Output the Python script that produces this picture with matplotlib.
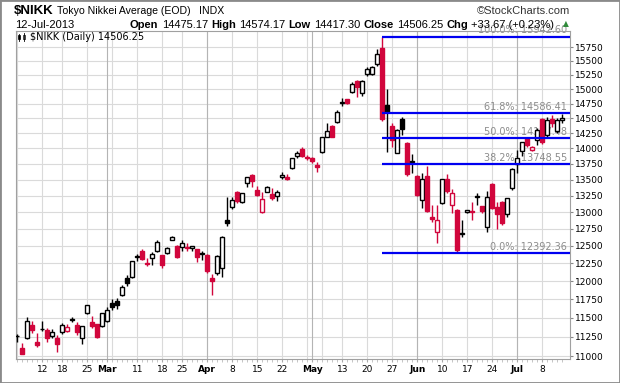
import matplotlib
matplotlib.use("Agg")
import matplotlib.pyplot as plt
from matplotlib.ticker import FixedLocator, FixedFormatter, NullLocator, NullFormatter
from matplotlib.patches import Rectangle
import pandas as pd

# trading days (Tokyo), Feb 4 - Jul 12 2013
holidays = ['2013-02-11', '2013-03-20', '2013-04-29', '2013-05-03', '2013-05-06']
dates = [d for d in pd.bdate_range('2013-02-04', '2013-07-12') if d.strftime('%Y-%m-%d') not in holidays]

opens = [11258, 11099, 11228, 11405, 11176, 11345, 11338, 11262, 11228, 11305,
         11330, 11476, 11405, 11228, 11560, 11441, 11415, 11385, 11450, 11693,
         11725, 11808, 12038, 12062, 12335, 12427, 12250, 12327, 12432, 12365,
         12394, 12590, 12500, 12490, 12480, 12474, 12456, 12380, 12365, 12048,
         12108, 12184, 12883, 13075, 13304, 13160, 13445, 13575, 13340, 13008,
         13314, 13278, 13252, 13540, 13538, 13681, 13882, 13986, 13860, 13840,
         13733, 13947, 14192, 14375, 14441, 14765, 14827, 14954, 15146, 14926,
         15260, 15260, 15440, 15727, 14723, 14375, 13931, 14488, 14085, 13780,
         13559, 13186, 13559, 12932, 12701, 13136, 13507, 13110, 13034, 12670,
         13005, 13025, 13230, 13095, 12784, 13433, 13084, 13160, 12969, 13371,
         13748, 13963, 14166, 13980, 14138, 14487, 14220, 14482, 14280, 14475.17]
highs = [11290, 11164, 11504, 11450, 11292, 11460, 11370, 11351, 11270, 11430,
         11415, 11515, 11440, 11395, 11670, 11530, 11420, 11565, 11640, 11760,
         11765, 11945, 12085, 12290, 12390, 12456, 12331, 12408, 12580, 12370,
         12481, 12640, 12510, 12587, 12548, 12495, 12460, 12430, 12380, 12098,
         12365, 12650, 13225, 13227, 13329, 13300, 13545, 13590, 13402, 13314,
         13402, 13366, 13340, 13617, 13590, 13850, 13960, 14019, 13894, 13855,
         13786, 14192, 14415, 14380, 14639, 14840, 14835, 15118, 15150, 15158,
         15394, 15400, 15708, 15942.60, 14995, 14415, 14320, 14527, 14100, 13909,
         13570, 13601, 13718, 13110, 13110, 13515, 13590, 13351, 13045, 12883,
         13040, 13150, 13289, 13100, 13329, 13444, 13160, 13165, 13215, 13680,
         13975, 14110, 14180, 14040, 14330, 14500, 14527, 14554, 14500, 14574.17]
lows = [11184, 11025, 11220, 11292, 11120, 11325, 11184, 11235, 11055, 11290,
        11305, 11440, 11270, 11150, 11555, 11370, 11235, 11380, 11445, 11603,
        11615, 11800, 11935, 12050, 12288, 12300, 12214, 12226, 12420, 12190,
        12385, 12580, 12320, 12432, 12432, 12432, 12274, 12298, 12110, 11805,
        12080, 12060, 12800, 13045, 13145, 13140, 13382, 13391, 13250, 12993,
        13310, 13186, 13175, 13512, 13500, 13670, 13850, 13860, 13813, 13770,
        13627, 13931, 14182, 14180, 14415, 14712, 14745, 14937, 14867, 14884,
        15236, 15240, 15415, 14460, 13947, 14020, 13925, 14220, 13555, 13600,
        13240, 13059, 13000, 12858, 12539, 13120, 13289, 12988, 12400, 12627,
        12995, 12890, 13110, 12990, 12701, 13045, 12749, 12815, 12932, 13340,
        13600, 13880, 14030, 13960, 14055, 14080, 14195, 14358, 14260, 14417.30]
closes = [11262, 11030, 11450, 11338, 11142, 11351, 11235, 11305, 11153, 11397,
          11380, 11482, 11305, 11393, 11665, 11395, 11240, 11560, 11603, 11640,
          11670, 11925, 11968, 12283, 12349, 12308, 12239, 12381, 12560, 12220,
          12468, 12635, 12338, 12546, 12471, 12493, 12335, 12397, 12135, 12003,
          12351, 12636, 12834, 13186, 13175, 13289, 13538, 13485, 13270, 13201,
          13382, 13220, 13304, 13575, 13515, 13840, 13921, 13884, 13850, 13799,
          13700, 14180, 14285, 14191, 14607, 14782, 14758, 15088, 15037, 15138,
          15347, 15381, 15627, 14484, 14612, 14142, 14311, 14326, 13589, 13790,
          13262, 13514, 13014, 12904, 12877, 13507, 13317, 13289, 12445, 12686,
          13030, 13007, 13245, 13014, 13227, 13062, 12969, 12834, 13213, 13677,
          13852, 14098, 14055, 14018, 14309, 14109, 14472, 14416, 14472, 14506.25]

fib_levels = [15942.60, 14586.41, 14167.48, 13748.55, 12392.36]
fib_names = ['100.0%', '61.8%', '50.0%', '38.2%', '0.0%']
fib_start = '2013-05-23'

y_ticks = list(range(11000, 16000, 250))

header_row = [('Open', True), ('14475.17', False), ('High', True), ('14574.17', False),
              ('Low', True), ('14417.30', False), ('Close', True), ('14506.25', False),
              ('Chg', True), ('+33.67 (+0.23%)', False)]

RED = '#d1063c'
BLACK = '#000000'
BLUE = '#0000f0'

W, H = 620, 383
fig = plt.figure(figsize=(W / 100, H / 100), dpi=100)
fig.patch.set_facecolor('white')

# axes placed by pixel box
left, right, top, bottom = 15.7, 570, 30.5, 359.3
ax = fig.add_axes([left / W, (H - bottom) / H, (right - left) / W, (bottom - top) / H])

ax.set_yscale('log')
ax.set_ylim(10958, 16056)
ax.set_xlim(-0.32, 110.54)

# grid
for v in y_ticks:
    ax.axhline(v, color='#dadada', lw=0.8, zorder=0)

week_starts, month_starts = [], []
for i, d in enumerate(dates):
    if i == 0 or d.isocalendar()[1] != dates[i - 1].isocalendar()[1]:
        week_starts.append(i)
    if i > 0 and d.month != dates[i - 1].month:
        month_starts.append(i)
for i in week_starts:
    ax.axvline(i, color='#dadada', lw=0.8, zorder=0)
for i in month_starts:
    ax.axvline(i, color='#b4b4b4', lw=0.8, zorder=0)

tick_pos, tick_lab = [], []
for i in sorted(set(week_starts) | set(month_starts)):
    if i in month_starts:
        tick_pos.append(i)
        tick_lab.append(dates[i].strftime('%b'))
    elif i > 0 and all(abs(i - m) > 2 for m in month_starts):
        tick_pos.append(i)
        tick_lab.append(str(dates[i].day))

ax.set_xticks(tick_pos)
ax.set_xticklabels(tick_lab, fontsize=6.5, family='DejaVu Sans')
for lab in ax.get_xticklabels():
    if not lab.get_text().isdigit():
        lab.set_fontweight('bold')
ax.set_xticks(range(len(dates)), minor=True)
ax.tick_params(axis='x', which='major', length=2, pad=2, color='#aaaaaa')
ax.tick_params(axis='x', which='minor', length=2, color='#bbbbbb')

ax.yaxis.tick_right()
ax.yaxis.set_major_locator(FixedLocator(y_ticks))
ax.yaxis.set_major_formatter(FixedFormatter([str(v) for v in y_ticks]))
ax.yaxis.set_minor_locator(NullLocator())
ax.yaxis.set_minor_formatter(NullFormatter())
ax.tick_params(axis='y', length=2, pad=1.5, labelsize=6.5, color='#888888')
for s in ax.spines.values():
    s.set_color('#a0a0a0')
    s.set_linewidth(0.8)

# candles: hollow when close > open, red when close < previous close
prev = opens[0]
for i in range(len(dates)):
    o, h, l, c = opens[i], highs[i], lows[i], closes[i]
    col = RED if c < prev else BLACK
    prev = c
    ax.vlines(i, l, h, color=col, lw=1.0, zorder=3)
    lo, hi = min(o, c), max(o, c)
    face = 'white' if c > o else col
    ax.bar(i, hi - lo, bottom=lo, width=0.72, facecolor=face, edgecolor=col,
           linewidth=1.0, zorder=4)

# fibonacci retracement
fs = [d.strftime('%Y-%m-%d') for d in dates].index(fib_start)
for lvl, name in zip(fib_levels, fib_names):
    ax.hlines(lvl, fs, 110.54, color=BLUE, lw=1.6, zorder=5)
    ax.annotate(f'{name}: {lvl:.2f}', xy=(1, lvl), xycoords=('axes fraction', 'data'),
                xytext=(-2, 1), textcoords='offset points', ha='right', va='bottom',
                fontsize=7, color='#8c8c8c', zorder=2, annotation_clip=False)

# legend in plot
fig.text(30 / W, 1 - 37.5 / H, '$NIKK (Daily) 14506.25', fontsize=7,
         va='center', ha='left', family='DejaVu Sans')
for x0, y0, hh, filled in [(19, 35.0, 4.0, True), (24, 34.5, 4.5, False)]:
    fig.add_artist(plt.Line2D([x0 / W, x0 / W], [1 - (y0 - 1.5) / H, 1 - (y0 + hh + 1.5) / H],
                              color='black', lw=0.6))
    fig.add_artist(Rectangle((x0 / W - 1.3 / W, 1 - (y0 + hh) / H), 2.6 / W, hh / H,
                             facecolor='black' if filled else 'white', edgecolor='black', lw=0.5))

# header
font = 'Liberation Sans'
fig.text(14 / W, 1 - 11 / H, '$NIKK', fontsize=9.5, fontweight='bold', family=font, va='center')
fig.text(57 / W, 1 - 11 / H, 'Tokyo Nikkei Average (EOD)', fontsize=7.6, family=font, va='center')
fig.text(199 / W, 1 - 11 / H, 'INDX', fontsize=7.6, family=font, va='center')
fig.text(570 / W, 1 - 11 / H, '\u00a9StockCharts.com', fontsize=8, family=font, va='center',
         ha='right', color='#333333')
fig.text(15 / W, 1 - 24.5 / H, '12-Jul-2013', fontsize=8, family=font, va='center')

renderer = fig.canvas.get_renderer()
x = 130.0
for txt, b in header_row:
    t = fig.text(x / W, 1 - 24.5 / H, txt, fontsize=8, family=font, va='center',
                 fontweight='bold' if b else 'normal')
    x = t.get_window_extent(renderer).x1 + 3.2
fig.text(566 / W, 1 - 24 / H, '\u25b2', fontsize=5.5, color='#2f8a3a', va='center', ha='center')

# outer frame
fig.add_artist(Rectangle((0, 0), 1, 1, transform=fig.transFigure, fill=False,
                         edgecolor='#8a8a8a', lw=2.0))

fig.savefig('out.png', dpi=100)
